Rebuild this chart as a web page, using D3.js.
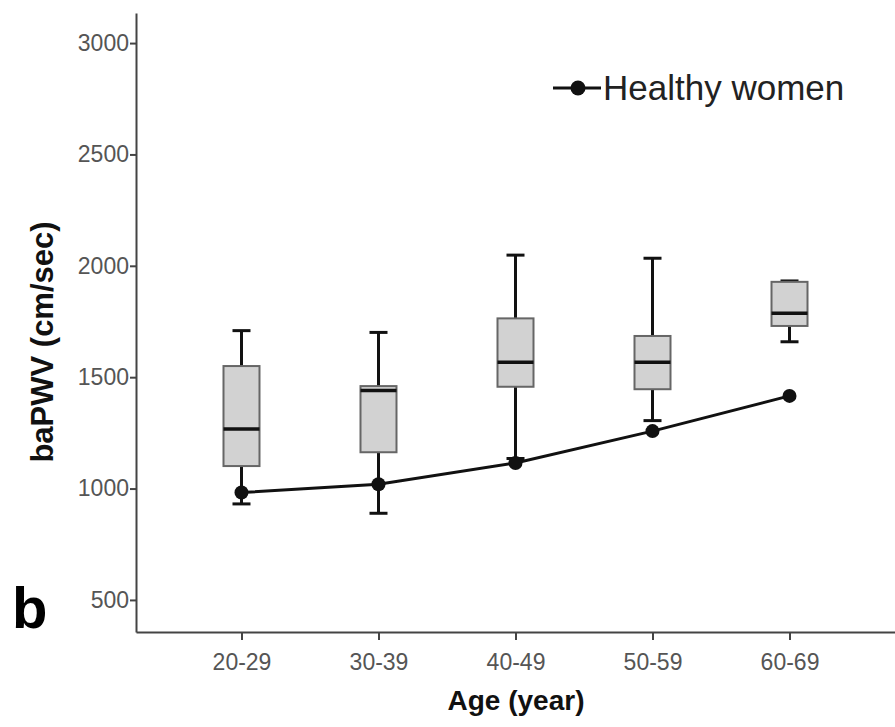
<!DOCTYPE html>
<html>
<head>
<meta charset="utf-8">
<script src="https://cdn.jsdelivr.net/npm/d3@7"></script>
<style>
  body { margin: 0; background: #fff; }
  svg { display: block; font-family: "Liberation Sans", Arial, sans-serif; }
</style>
</head>
<body>
<svg id="chart" width="895" height="727"></svg>
<script>
const categories = ["20-29", "30-39", "40-49", "50-59", "60-69"];
const whiskerLow = [931, 889, 1135, 1305, 1659];
const q1 = [1101, 1163, 1457, 1446, 1730];
const median = [1267, 1440, 1567, 1567, 1787];
const q3 = [1550, 1460, 1764, 1685, 1928];
const whiskerHigh = [1709, 1701, 2048, 2034, 1932];
const healthyWomen = [982, 1019, 1115, 1258, 1416];
const yTicks = [500, 1000, 1500, 2000, 2500, 3000];

const svg = d3.select("#chart");

const x = d3.scalePoint().domain(categories).range([136, 895]).padding(0.77);
const y = d3.scaleLinear().domain([356, 3135]).range([632, 13]);

// axes
const yAxis = svg.append("g")
  .attr("transform", "translate(136,0)")
  .call(d3.axisLeft(y).tickValues(yTicks).tickFormat(d3.format("d"))
    .tickSize(6).tickSizeOuter(0).tickPadding(1));
yAxis.select(".domain").attr("stroke", "#444").attr("stroke-width", 2);
yAxis.selectAll(".tick line").attr("stroke", "#444").attr("stroke-width", 2);
yAxis.selectAll(".tick text")
  .attr("fill", "#555")
  .attr("font-size", 23)
  .attr("font-family", "Liberation Sans, Arial, sans-serif");

const xAxis = svg.append("g")
  .attr("transform", "translate(0,632)")
  .call(d3.axisBottom(x).tickSize(8).tickSizeOuter(0).tickPadding(14));
xAxis.select(".domain").attr("stroke", "#444").attr("stroke-width", 2);
xAxis.selectAll(".tick line").attr("stroke", "#444").attr("stroke-width", 2);
xAxis.selectAll(".tick text")
  .attr("fill", "#555")
  .attr("font-size", 23)
  .attr("font-family", "Liberation Sans, Arial, sans-serif");

// boxes
const boxW = 36, capW = 18;
const boxes = svg.append("g").selectAll("g.box")
  .data(categories.map((c, i) => ({
    c, lo: whiskerLow[i], q1: q1[i], med: median[i], q3: q3[i], hi: whiskerHigh[i]
  })))
  .join("g")
  .attr("class", "box")
  .attr("transform", d => `translate(${x(d.c)},0)`);

boxes.append("line")
  .attr("y1", d => y(d.lo)).attr("y2", d => y(d.hi))
  .attr("stroke", "#111").attr("stroke-width", 3);
boxes.append("line")
  .attr("x1", -capW / 2).attr("x2", capW / 2)
  .attr("y1", d => y(d.hi)).attr("y2", d => y(d.hi))
  .attr("stroke", "#111").attr("stroke-width", 3);
boxes.append("line")
  .attr("x1", -capW / 2).attr("x2", capW / 2)
  .attr("y1", d => y(d.lo)).attr("y2", d => y(d.lo))
  .attr("stroke", "#111").attr("stroke-width", 3);
boxes.append("rect")
  .attr("x", -boxW / 2).attr("width", boxW)
  .attr("y", d => y(d.q3)).attr("height", d => y(d.q1) - y(d.q3))
  .attr("fill", "#d2d2d2").attr("stroke", "#666").attr("stroke-width", 2);
boxes.append("line")
  .attr("x1", -boxW / 2).attr("x2", boxW / 2)
  .attr("y1", d => y(d.med)).attr("y2", d => y(d.med))
  .attr("stroke", "#111").attr("stroke-width", 3.5);

// healthy women line
const line = d3.line().x((d, i) => x(categories[i])).y(d => y(d));
svg.append("path")
  .datum(healthyWomen)
  .attr("d", line)
  .attr("fill", "none").attr("stroke", "#111").attr("stroke-width", 3);
svg.append("g").selectAll("circle")
  .data(healthyWomen)
  .join("circle")
  .attr("cx", (d, i) => x(categories[i]))
  .attr("cy", d => y(d))
  .attr("r", 7)
  .attr("fill", "#111");

// legend
const legend = svg.append("g").attr("transform", "translate(553,88)");
legend.append("line").attr("x1", 0).attr("x2", 48)
  .attr("stroke", "#111").attr("stroke-width", 3);
legend.append("circle").attr("cx", 25).attr("r", 7.5).attr("fill", "#111");
legend.append("text")
  .attr("x", 50).attr("y", 12)
  .attr("font-size", 35).attr("fill", "#222")
  .text("Healthy women");

// titles
svg.append("text")
  .attr("transform", "translate(53,342) rotate(-90)")
  .attr("text-anchor", "middle")
  .attr("font-size", 31).attr("font-weight", "bold").attr("fill", "#111")
  .text("baPWV (cm/sec)");
svg.append("text")
  .attr("x", 516).attr("y", 710)
  .attr("text-anchor", "middle")
  .attr("font-size", 28).attr("font-weight", "bold").attr("fill", "#111")
  .text("Age (year)");
svg.append("text")
  .attr("x", 12).attr("y", 628)
  .attr("font-size", 58).attr("font-weight", "bold").attr("fill", "#000")
  .text("b");
</script>
</body>
</html>
